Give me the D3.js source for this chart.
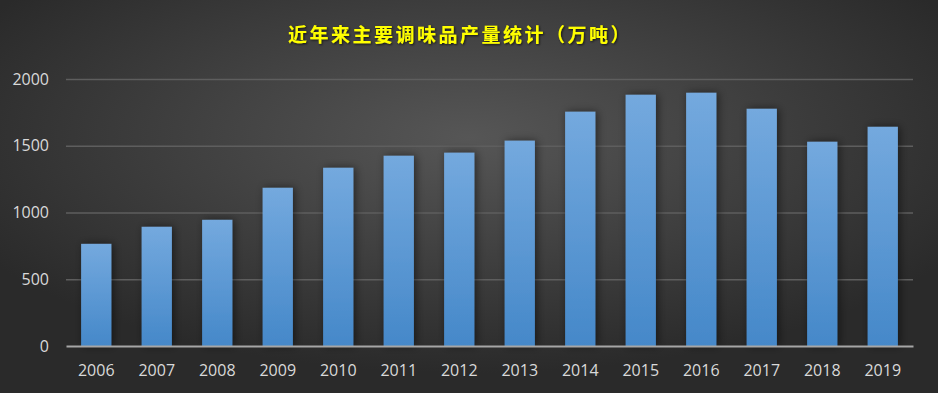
<!DOCTYPE html>
<html>
<head>
<meta charset="utf-8">
<script src="https://cdn.jsdelivr.net/npm/d3@7"></script>
<style>
  html, body { margin: 0; padding: 0; background: #333; }
  svg { display: block; }
</style>
</head>
<body>
<div id="chart"></div>
<script>
const years = ["2006","2007","2008","2009","2010","2011","2012","2013","2014","2015","2016","2017","2018","2019"];
const output = [765, 893, 945, 1185, 1335, 1425, 1448, 1538, 1755, 1882, 1897, 1777, 1530, 1642];
const yTicks = [0, 500, 1000, 1500, 2000];
const title = "近年来主要调味品产量统计（万吨）";

const width = 938, height = 393;
const margin = { top: 79, right: 25, bottom: 47, left: 66 };
const innerWidth = width - margin.left - margin.right;
const innerHeight = height - margin.top - margin.bottom;

const svg = d3.select("#chart")
  .append("svg")
  .attr("width", width)
  .attr("height", height);

const defs = svg.append("defs");

// background
const bg = defs.append("radialGradient")
  .attr("id", "bg").attr("cx", "50%").attr("cy", "35%").attr("r", "60%");
bg.append("stop").attr("offset", "0%").attr("stop-color", "#565656");
bg.append("stop").attr("offset", "100%").attr("stop-color", "#2a2a2a");

// bar fill
const barGrad = defs.append("linearGradient")
  .attr("id", "barFill").attr("x1", 0).attr("y1", 0).attr("x2", 0).attr("y2", 1);
barGrad.append("stop").attr("offset", "0%").attr("stop-color", "#74a9de");
barGrad.append("stop").attr("offset", "100%").attr("stop-color", "#4588c9");

const shadow = defs.append("filter").attr("id", "shadow")
  .attr("x", "-50%").attr("y", "-10%").attr("width", "200%").attr("height", "120%");
shadow.append("feDropShadow")
  .attr("dx", 2).attr("dy", 0).attr("stdDeviation", 4)
  .attr("flood-color", "#000").attr("flood-opacity", 0.5);

const titleShadow = defs.append("filter").attr("id", "tshadow");
titleShadow.append("feDropShadow")
  .attr("dx", 1).attr("dy", 1).attr("stdDeviation", 1)
  .attr("flood-color", "#000").attr("flood-opacity", 0.7);

svg.append("rect").attr("width", width).attr("height", height).attr("fill", "url(#bg)");

svg.append("text")
  .attr("x", 460).attr("y", 42)
  .attr("text-anchor", "middle")
  .attr("font-family", "'Noto Sans CJK SC', sans-serif")
  .attr("font-weight", "bold")
  .attr("font-size", 19)
  .attr("letter-spacing", 2.5)
  .attr("fill", "#ffff00")
  .attr("filter", "url(#tshadow)")
  .text(title);

const inner = svg.append("g")
  .attr("transform", `translate(${margin.left},${margin.top})`);

const x = d3.scaleBand().domain(years).range([0, innerWidth])
  .paddingInner(0.5).paddingOuter(0.25);
const y = d3.scaleLinear().domain([0, 2000]).range([innerHeight, 0]);

// gridlines
inner.append("g")
  .attr("class", "grid")
  .call(d3.axisLeft(y).tickValues(yTicks.slice(1)).tickSize(-innerWidth).tickFormat(""))
  .call(g => g.select(".domain").remove())
  .call(g => g.selectAll("line").attr("stroke", "#5e5e5e").attr("stroke-width", 1.5));

// bars
inner.append("g")
  .selectAll("rect").data(years).join("rect")
    .attr("x", d => x(d))
    .attr("y", (d, i) => y(output[i]))
    .attr("width", x.bandwidth())
    .attr("height", (d, i) => innerHeight - y(output[i]))
    .attr("fill", "url(#barFill)")
    .attr("filter", "url(#shadow)");

// y axis
inner.append("g")
  .call(d3.axisLeft(y).tickValues(yTicks).tickFormat(d3.format("d")).tickSize(0).tickPadding(17))
  .call(g => g.select(".domain").remove())
  .call(g => g.selectAll("text")
    .attr("fill", "#d9d9d9")
    .attr("font-size", 16)
    .attr("font-family", "'Open Sans', sans-serif"));

// x axis
inner.append("g")
  .attr("transform", `translate(0,${innerHeight})`)
  .call(d3.axisBottom(x).tickSize(0).tickPadding(19))
  .call(g => g.select(".domain").attr("stroke", "#a6a6a6").attr("stroke-width", 2))
  .call(g => g.selectAll("text")
    .attr("fill", "#d9d9d9")
    .attr("font-size", 16)
    .attr("font-family", "'Open Sans', sans-serif"));
</script>
</body>
</html>
